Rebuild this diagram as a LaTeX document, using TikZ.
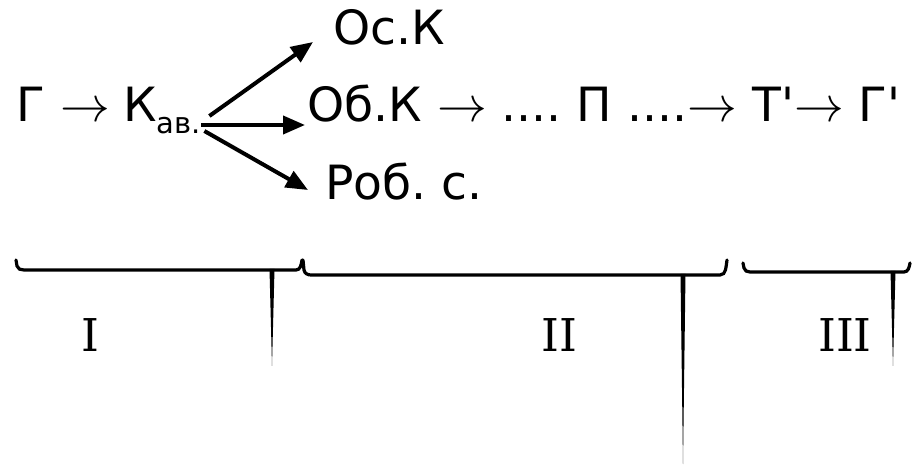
\documentclass[tikz,border=0pt]{standalone}
\usepackage{fontspec}
\setmainfont{DejaVu Sans}
\newfontfamily\romfont{DejaVu Serif}
\usetikzlibrary{arrows.meta}
\frenchspacing
\tikzset{
  txt/.style={anchor=base west, inner sep=0pt, font=\fontsize{23.6}{28}\selectfont},
  num/.style={anchor=base, inner sep=0pt, font=\romfont\fontsize{22.6}{27}\selectfont},
  branch/.style={line width=2pt, -{Triangle[length=11pt, width=9pt]}},
  brace/.style={line width=1.6pt, line cap=round}
}
\begin{document}
\begin{tikzpicture}[x=0.5pt, y=-0.5pt]
  \useasboundingbox (0,0) rectangle (912,465);

  % Top line: raw material to capital, then the three branches
  \node[txt] (g) at (16,122) {Г $\rightarrow$};
  \node[txt] (kav) at (123,122) {К\raisebox{-0.45ex}{\fontsize{14.5}{16}\selectfont ав.}};
  \node[txt] (osk) at (333,45) {Ос.К};
  \node[txt] (obk) at (307,122) {Об.К $\rightarrow$ .... П ....$\rightarrow$ Т\textquotesingle$\rightarrow$ Г\textquotesingle};
  \node[txt] (robs) at (325,200) {Роб. с.};

  % Branches out of the capital
  \draw[branch] ([xshift=4pt,yshift=3pt]kav.base east) -- ([xshift=-10pt,yshift=1.5pt]osk.base west);
  \draw[branch] ([yshift=-1.5pt]kav.base east) -- ([xshift=-1pt,yshift=-1.5pt]kav.base east -| obk.west);
  \draw[branch] ([xshift=1.5pt,yshift=-4.5pt]kav.base east) -- ([xshift=-8.5pt,yshift=5pt]robs.base west);

  % Braces under the stages
  \draw[brace] (16,260) -- (17,266) to[out=-80,in=180] (24,270) -- (296,270) to[out=0,in=-100] (302,260); % I
  \fill (269.5,269) -- (274.5,269) -- (272,366) -- cycle;
  \draw[brace] (303,260) -- (304,270) to[out=-80,in=180] (311,275) -- (720,275) to[out=0,in=-100] (727,260); % II
  \fill (680.5,274) -- (685.5,274) -- (683,464) -- cycle;
  \draw[brace] (743,263) -- (744,268) to[out=-80,in=180] (750,272) -- (904,272) to[out=0,in=-100] (910,263); % III
  \fill (890.5,271) -- (895.5,271) -- (893,366) -- cycle;

  % Stage numbers
  \node[num] (s1) at (90,351) {I};
  \node[num] (s2) at (559,351) {II};
  \node[num] (s3) at (845,351) {III};
\end{tikzpicture}
\end{document}
